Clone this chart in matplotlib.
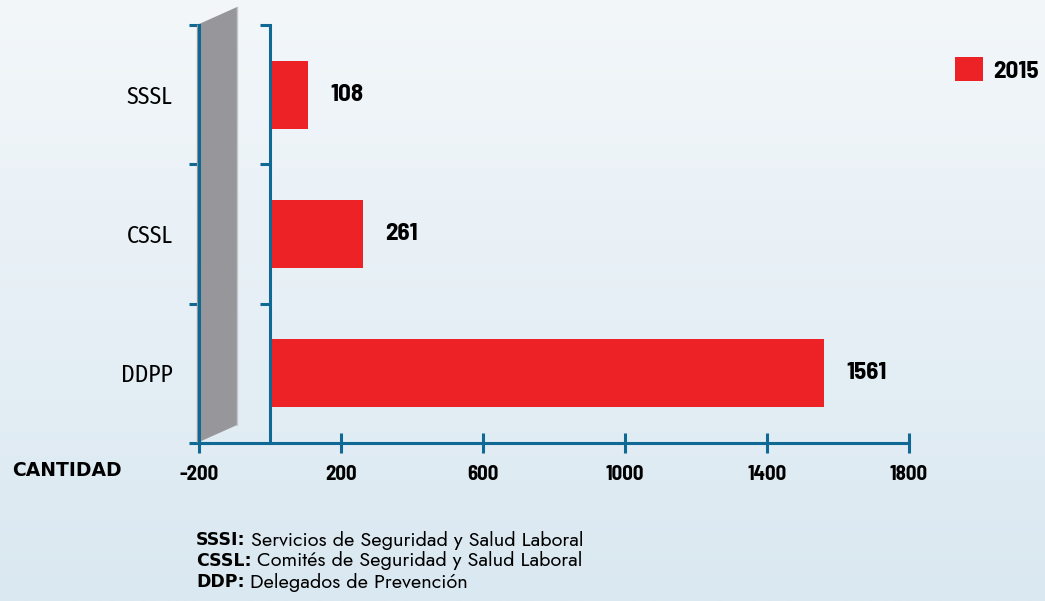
import matplotlib
matplotlib.use("Agg")
import matplotlib.pyplot as plt
import numpy as np
from matplotlib.patches import Patch, Polygon

categories = ["DDPP", "CSSL", "SSSL"]
values_2015 = [1561, 261, 108]
xticks = [-200, 200, 600, 1000, 1400, 1800]
series_name = "2015"
notes_abbr = ["SSSI:", "CSSL:", "DDP:"]
notes_text = ["Servicios de Seguridad y Salud Laboral",
              "Comités de Seguridad y Salud Laboral",
              "Delegados de Prevención"]

SEMI = ["Barlow Semi Condensed", "Liberation Sans"]
LABF = ["Fira Sans Condensed", "Liberation Sans"]
GEO = ["Jost", "Lato", "DejaVu Sans"]

W, H = 1045, 601
fig = plt.figure(figsize=(W / 100, H / 100), dpi=100)

bg = fig.add_axes([0, 0, 1, 1], zorder=-10)
grad = np.linspace(0, 1, 256)[:, None]
c_top = np.array([0xf3, 0xf7, 0xfa]) / 255
c_bot = np.array([0xda, 0xe8, 0xf1]) / 255
img = c_top[None, None, :] * (1 - grad[:, :, None]) + c_bot[None, None, :] * grad[:, :, None]
bg.imshow(img, aspect="auto", extent=[0, 1, 0, 1])
bg.set_axis_off()

blue = "#0f6994"
red = "#ed2226"

ax = fig.add_axes([199 / W, 158 / H, 710 / W, 418 / H])
ax.set_facecolor("none")
y = np.arange(len(categories))
ax.barh(y, values_2015, height=0.49, color=red, zorder=3)
ax.set_xlim(-200, 1800)
ax.set_ylim(-0.5, 2.5)

for s in ["top", "right"]:
    ax.spines[s].set_visible(False)
for s in ["left", "bottom"]:
    ax.spines[s].set_color(blue)
    ax.spines[s].set_linewidth(2.2)
    ax.spines[s].set_zorder(6)

ax.set_xticks(xticks)
ax.set_xticklabels([str(t) for t in xticks], fontfamily=SEMI, fontweight="bold", fontsize=15)
ax.tick_params(axis="x", direction="inout", length=14, width=2.2, color=blue, pad=9)

ax.set_yticks([-0.5, 0.5, 1.5, 2.5])
ax.set_yticklabels([])
ax.tick_params(axis="y", which="major", direction="inout", length=14, width=2.2, color=blue)
ax.set_yticks(y, labels=categories, minor=True)
ax.tick_params(axis="y", which="minor", length=0, pad=19, labelsize=17)
for lab in ax.get_yticklabels(minor=True):
    lab.set_fontfamily(LABF)

# axis break shape
brk = Polygon([(-0.003, 0.0), (0.0535, 0.043), (0.0535, 1.043), (-0.003, 1.0)],
              closed=True, transform=ax.transAxes, clip_on=False,
              facecolor="#97979b", edgecolor="none", zorder=2)
ax.add_patch(brk)
ax.plot([0.0535, 0.0535], [0.043, 1.043], transform=ax.transAxes, clip_on=False,
        color="#c4c6c9", lw=1, zorder=2)

# second axis line at zero
sec = ax.secondary_yaxis(0.1)
sec.spines["left"].set_color(blue)
sec.spines["left"].set_linewidth(2.2)
sec.set_yticks([0.5, 1.5, 2.5])
sec.set_yticklabels([])
sec.tick_params(axis="y", direction="out", length=7, width=2.2, color=blue)
sec.set_zorder(5)

# value labels
for yi, v in zip(y, values_2015):
    ax.annotate(str(v), (v, yi), xytext=(16, 0), textcoords="offset points",
                va="center", ha="left", fontsize=18, fontweight="bold", family=SEMI)

fig.text(12 / W, 1 - 471 / H, "CANTIDAD", fontsize=13.5, fontweight="bold",
         family="DejaVu Sans", va="center", ha="left")

leg = fig.legend(handles=[Patch(facecolor=red, edgecolor="none", label=series_name)],
                 loc="center left", bbox_to_anchor=(955 / W, 1 - 70 / H), frameon=False,
                 borderpad=0, borderaxespad=0, handlelength=1.12, handleheight=1.08,
                 handletextpad=0.4, prop={"family": SEMI, "weight": "bold", "size": 18})

for i, (b, t) in enumerate(zip(notes_abbr, notes_text)):
    yy = 1 - (540 + 21 * i) / H
    tb = fig.text(196 / W, yy, b, fontsize=12.5, fontweight="bold", family="DejaVu Sans", va="center")
    fig.canvas.draw()
    bb = tb.get_window_extent()
    fig.text((bb.x1 + 5) / W, yy, t, fontsize=14.3, family=GEO, va="center")

fig.savefig("out.png", dpi=100)
